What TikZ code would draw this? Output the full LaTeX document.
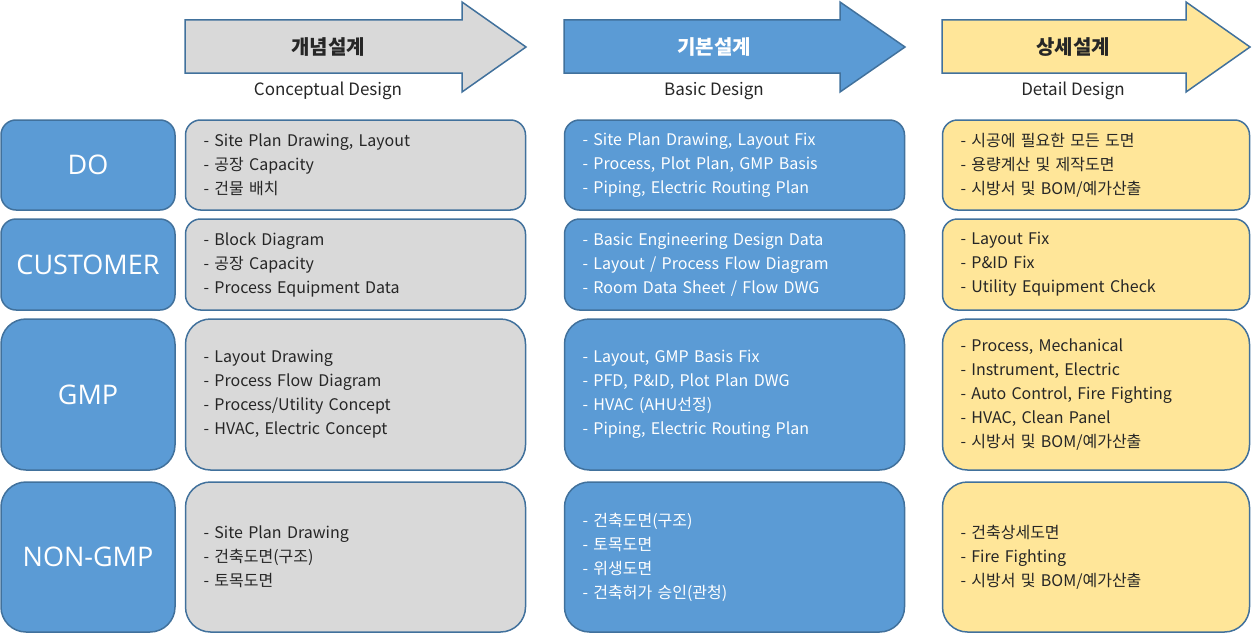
\documentclass[tikz,border=0pt]{standalone}
\usepackage{fontspec}
\setmainfont{Noto Sans CJK KR}
\newfontfamily\labelfont{Open Sans}
\usetikzlibrary{positioning}
\definecolor{cBlue}{HTML}{5B9BD5}
\definecolor{cEdge}{HTML}{41719C}
\definecolor{cGray}{HTML}{D9D9D9}
\definecolor{cYellow}{HTML}{FFE699}
\definecolor{cText}{HTML}{262626}

\tikzset{
  arrowbox/.style={draw=cEdge, line width=1.5pt},
  rowbox/.style={draw=cEdge, line width=1.5pt, fill=cBlue, text=white, minimum width=174pt,
    font=\labelfont\fontsize{27}{30}\selectfont},
  cellbox/.style={draw=cEdge, line width=1.5pt, align=left, inner xsep=18pt, inner ysep=0pt,
    font=\fontsize{16}{24}\selectfont},
  wide/.style={text width=304pt, minimum width=340pt},
  narrow/.style={text width=271pt, minimum width=307pt},
  cellgray/.style={cellbox, wide, fill=cGray, text=cText},
  cellblue/.style={cellbox, wide, fill=cBlue, text=white},
  cellyellow/.style={cellbox, narrow, fill=cYellow, text=cText},
}

\begin{document}
\begin{tikzpicture}[x=1pt, y=-1pt]
  \useasboundingbox (0,0) rectangle (1252,634);

  % phase arrows
  \foreach \xa/\xb/\xc/\clr/\tc/\ko/\en/\xt [count=\i] in
   {185/462/526/cGray/cText/개념설계/Conceptual Design/328,
    564/840/905/cBlue/white/기본설계/Basic Design/714,
    942/1186/1250/cYellow/cText/상세설계/Detail Design/1073}
  {
    \draw[arrowbox, fill=\clr] (\xa,20) -- (\xb,20) -- (\xb,2) -- (\xc,47)
      -- (\xb,92) -- (\xb,73) -- (\xa,73) -- cycle;
    \node[text=\tc, font=\bfseries\fontsize{20}{22}\selectfont] (hd\i) at (\xt,47) {\ko};
    \node[text=cText, font=\fontsize{17}{20}\selectfont] (sub\i) at (\xt,91) {\en};
  };

  % row labels
  \foreach \nm/\y/\h/\r/\t in
   {DO/165/90/15/DO,
    CUS/264.5/91/15/CUSTOMER,
    GMP/394.5/151/25/GMP,
    NON/557/150/25/NON-GMP}
  {
    \node[rowbox, minimum height=\h pt, rounded corners=\r pt] (l\nm) at (88,\y) {\t};
  };

  % DO
  \node[cellgray, minimum height=90pt, rounded corners=15pt, right=9pt of lDO] (cDO1)
    {- Site Plan Drawing, Layout\\- 공장 Capacity\\- 건물 배치};
  \node[cellblue, minimum height=90pt, rounded corners=15pt, right=37.5pt of cDO1] (cDO2)
    {- Site Plan Drawing, Layout Fix\\- Process, Plot Plan, GMP Basis\\- Piping, Electric Routing Plan};
  \node[cellyellow, minimum height=90pt, rounded corners=15pt, right=36.5pt of cDO2] (cDO3)
    {- 시공에 필요한 모든 도면\\- 용량계산 및 제작도면\\- 시방서 및 BOM/예가산출};

  % CUSTOMER
  \node[cellgray, minimum height=91pt, rounded corners=15pt, right=9pt of lCUS] (cCUS1)
    {- Block Diagram\\- 공장 Capacity\\- Process Equipment Data};
  \node[cellblue, minimum height=91pt, rounded corners=15pt, right=37.5pt of cCUS1] (cCUS2)
    {- Basic Engineering Design Data\\- Layout / Process Flow Diagram\\- Room Data Sheet / Flow DWG};
  \node[cellyellow, minimum height=91pt, rounded corners=15pt, right=36.5pt of cCUS2] (cCUS3)
    {- Layout Fix\\- P\&ID Fix\\- Utility Equipment Check};

  % GMP
  \node[cellgray, minimum height=151pt, rounded corners=25pt, right=9pt of lGMP] (cGMP1)
    {- Layout Drawing\\- Process Flow Diagram\\- Process/Utility Concept\\- HVAC, Electric Concept};
  \node[cellblue, minimum height=151pt, rounded corners=25pt, right=37.5pt of cGMP1] (cGMP2)
    {- Layout, GMP Basis Fix\\- PFD, P\&ID, Plot Plan DWG\\- HVAC (AHU선정)\\- Piping, Electric Routing Plan};
  \node[cellyellow, minimum height=151pt, rounded corners=25pt, right=36.5pt of cGMP2] (cGMP3)
    {- Process, Mechanical\\- Instrument, Electric\\- Auto Control, Fire Fighting\\- HVAC, Clean Panel\\- 시방서 및 BOM/예가산출};

  % NON-GMP
  \node[cellgray, minimum height=150pt, rounded corners=25pt, right=9pt of lNON] (cNON1)
    {- Site Plan Drawing\\- 건축도면(구조)\\- 토목도면};
  \node[cellblue, minimum height=150pt, rounded corners=25pt, right=37.5pt of cNON1] (cNON2)
    {- 건축도면(구조)\\- 토목도면\\- 위생도면\\- 건축허가 승인(관청)};
  \node[cellyellow, minimum height=150pt, rounded corners=25pt, right=36.5pt of cNON2] (cNON3)
    {- 건축상세도면\\- Fire Fighting\\- 시방서 및 BOM/예가산출};
\end{tikzpicture}
\end{document}
